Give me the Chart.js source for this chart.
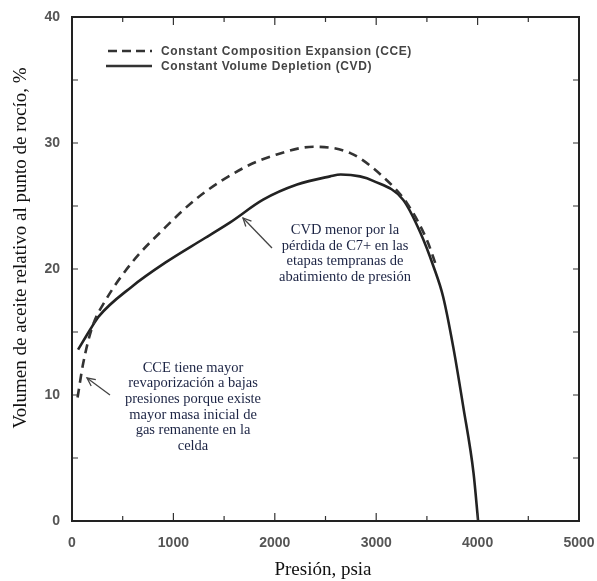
<!DOCTYPE html>
<html lang="es">
<head>
<meta charset="UTF-8">
<title>CCE vs CVD</title>
<script src="https://cdn.jsdelivr.net/npm/chart.js"></script>
<style>
    html, body { margin: 0; padding: 0; background: #fff; }
    #wrap { width: 597px; height: 581px; }
</style>
</head>
<body>
<div id="wrap"><canvas id="chart" width="597" height="581"></canvas></div>
<script>
// Data
const ccePressure = [55, 110, 200, 330, 590, 920, 1245, 1710, 1985, 2380, 2745, 3070, 3305, 3500, 3590];
const cceVolume   = [9.8, 12.5, 15.4, 17.5, 20.5, 23.3, 25.7, 28.1, 29.0, 29.7, 29.2, 27.3, 25.2, 22.3, 20.3];

const cvdPressure = [60, 180, 260, 590, 920, 1300, 1560, 1885, 2220, 2545, 2650, 2840, 2970, 3265, 3435, 3565, 3660, 3760, 3860, 3960, 4005];
const cvdVolume   = [13.6, 15.2, 16.2, 18.6, 20.5, 22.4, 23.7, 25.5, 26.7, 27.35, 27.5, 27.35, 27.0, 25.5, 22.9, 20.2, 17.8, 13.8, 9.0, 3.8, 0];

const xTicks = [0, 1000, 2000, 3000, 4000, 5000];
const yTicks = [0, 10, 20, 30, 40];

const legendLabels = ['Constant Composition Expansion (CCE)', 'Constant Volume Depletion (CVD)'];
const noteCVD = ['CVD menor por la', 'pérdida de C7+ en las', 'etapas tempranas de', 'abatimiento de presión'];
const noteCCE = ['CCE tiene mayor', 'revaporización a bajas', 'presiones porque existe', 'mayor masa inicial de', 'gas remanente en la', 'celda'];

function toPoints(xs, ys) {
    return xs.map((x, i) => ({ x: x, y: ys[i] }));
}

const tickFont = { family: '"Liberation Sans", Arial, sans-serif', size: 14, weight: 'bold' };

// frame, inner ticks, legend, notes and arrows
const decor = {
    id: 'decor',
    afterDatasetsDraw(chart) {
        const ctx = chart.ctx;
        const a = chart.chartArea;
        const xs = chart.scales.x, ys = chart.scales.y;
        ctx.save();

        // inner ticks
        ctx.strokeStyle = '#333';
        ctx.lineWidth = 1.2;
        for (let v = 500; v < 5000; v += 500) {
            const px = xs.getPixelForValue(v);
            const len = v % 1000 === 0 ? 8 : 5;
            ctx.beginPath();
            ctx.moveTo(px, a.bottom); ctx.lineTo(px, a.bottom - len);
            ctx.moveTo(px, a.top); ctx.lineTo(px, a.top + len);
            ctx.stroke();
        }
        for (let v = 5; v < 40; v += 5) {
            const py = ys.getPixelForValue(v);
            ctx.beginPath();
            ctx.moveTo(a.left, py); ctx.lineTo(a.left + 6, py);
            ctx.moveTo(a.right, py); ctx.lineTo(a.right - 6, py);
            ctx.stroke();
        }

        // frame
        ctx.strokeStyle = '#222';
        ctx.lineWidth = 2;
        ctx.strokeRect(a.left, a.top, a.right - a.left, a.bottom - a.top);

        // legend
        ctx.strokeStyle = '#333';
        ctx.lineWidth = 2.5;
        ctx.setLineDash([9, 5]);
        ctx.beginPath(); ctx.moveTo(108, 51); ctx.lineTo(152, 51); ctx.stroke();
        ctx.setLineDash([]);
        ctx.beginPath(); ctx.moveTo(106, 66); ctx.lineTo(152, 66); ctx.stroke();
        ctx.fillStyle = '#444';
        ctx.font = 'bold 12px "Liberation Sans", Arial, sans-serif';
        ctx.letterSpacing = '0.6px';
        ctx.textAlign = 'left';
        ctx.textBaseline = 'middle';
        ctx.fillText(legendLabels[0], 161, 52);
        ctx.fillText(legendLabels[1], 161, 67);
        ctx.letterSpacing = '0px';

        // notes
        ctx.fillStyle = '#1c2444';
        ctx.font = '14.5px "Liberation Serif", "DejaVu Serif", serif';
        ctx.textAlign = 'center';
        noteCVD.forEach((t, i) => ctx.fillText(t, 345, 230 + i * 15.7));
        noteCCE.forEach((t, i) => ctx.fillText(t, 193, 368 + i * 15.6));

        // arrows
        function arrow(x1, y1, x2, y2) {
            const ang = Math.atan2(y2 - y1, x2 - x1);
            ctx.strokeStyle = '#444';
            ctx.lineWidth = 1.3;
            ctx.beginPath(); ctx.moveTo(x1, y1); ctx.lineTo(x2, y2); ctx.stroke();
            ctx.beginPath();
            ctx.moveTo(x2 - 9 * Math.cos(ang - 0.45), y2 - 9 * Math.sin(ang - 0.45));
            ctx.lineTo(x2, y2);
            ctx.lineTo(x2 - 9 * Math.cos(ang + 0.45), y2 - 9 * Math.sin(ang + 0.45));
            ctx.stroke();
        }
        arrow(272, 248, 243, 218);
        arrow(110, 395, 87, 378);

        // axis titles
        ctx.fillStyle = '#111';
        ctx.font = '19px "Liberation Serif", "DejaVu Serif", serif';
        ctx.textAlign = 'center';
        ctx.fillText('Presión, psia', 323, 570);
        ctx.save();
        ctx.translate(21, 248);
        ctx.rotate(-Math.PI / 2);
        ctx.fillText('Volumen de aceite relativo al punto de rocío, %', 0, 0);
        ctx.restore();

        ctx.restore();
    }
};

new Chart(document.getElementById('chart'), {
    type: 'scatter',
    data: {
        datasets: [
            {
                label: legendLabels[0],
                data: toPoints(ccePressure, cceVolume),
                showLine: true,
                borderColor: '#333',
                borderWidth: 2.6,
                borderDash: [9, 6],
                pointRadius: 0,
                cubicInterpolationMode: 'monotone'
            },
            {
                label: legendLabels[1],
                data: toPoints(cvdPressure, cvdVolume),
                showLine: true,
                borderColor: '#222',
                borderWidth: 2.6,
                pointRadius: 0,
                cubicInterpolationMode: 'monotone'
            }
        ]
    },
    options: {
        responsive: false,
        animation: false,
        layout: { padding: { top: 17, right: 18, left: 0, bottom: 0 } },
        plugins: { legend: { display: false }, tooltip: { enabled: false } },
        scales: {
            x: {
                type: 'linear',
                min: 0, max: 5000,
                afterBuildTicks(s) { s.ticks = xTicks.map(v => ({ value: v })); },
                afterFit(s) { s.height = 60; s.paddingLeft = 0; s.paddingRight = 0; },
                grid: { display: false, drawTicks: false },
                border: { display: false },
                ticks: {
                    padding: 14,
                    color: '#555',
                    font: tickFont,
                    callback: v => String(v)
                }
            },
            y: {
                type: 'linear',
                min: 0, max: 40,
                afterBuildTicks(s) { s.ticks = yTicks.map(v => ({ value: v })); },
                afterFit(s) { s.width = 72; s.paddingTop = 0; s.paddingBottom = 0; },
                grid: { display: false, drawTicks: false },
                border: { display: false },
                ticks: {
                    padding: 12,
                    color: '#555',
                    font: tickFont,
                    callback: v => String(v)
                }
            }
        }
    },
    plugins: [decor]
});
</script>
</body>
</html>
